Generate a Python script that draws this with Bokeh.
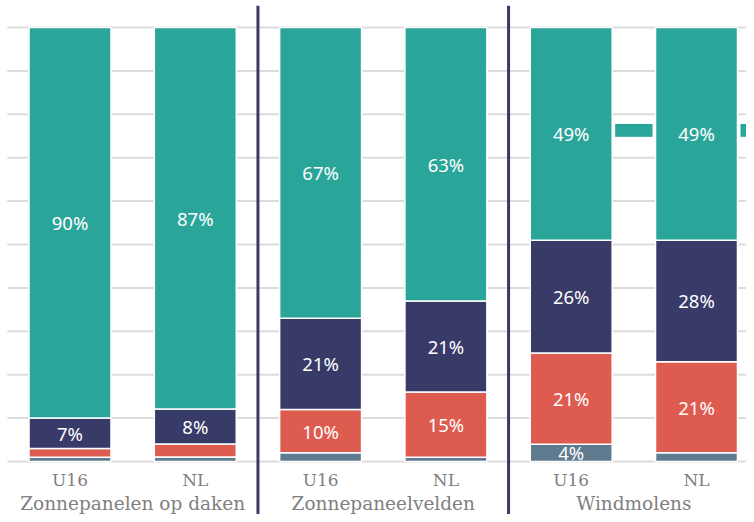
from bokeh.plotting import figure
from bokeh.core.properties import value
from bokeh.embed import file_html
from bokeh.resources import INLINE

# ---- data ----
groups = ["Zonnepanelen op daken", "Zonnepaneelvelden", "Windmolens"]
regions = ["U16", "NL"]
gray = [1, 1, 2, 1, 4, 2]
red = [2, 3, 10, 15, 21, 21]
navy = [7, 8, 21, 21, 26, 28]
teal = [90, 87, 67, 63, 49, 49]
grid_ticks = [0, 10, 20, 30, 40, 50, 60, 70, 80, 90, 100]
marker_level = [None, None, None, None, 76.3, 76.3]
marker_thick = 3.2

colors = ["#5f7b90", "#de5b50", "#383a68", "#2aa59a"]
series = [gray, red, navy, teal]

n = len(teal)
xs = list(range(n))
bar_w = 0.654
x_lo, x_hi = -0.5547, 5.399
y_lo, y_hi = -12.21, 106.22

p = figure(width=746, height=514, output_backend="svg", toolbar_location=None,
           x_range=(x_lo, x_hi), y_range=(y_lo, y_hi),
           x_axis_location=None, y_axis_location=None, min_border=0)
p.outline_line_color = None
p.xgrid.visible = False
p.ygrid.visible = False

# horizontal grid lines, starting half a slot left of the first bar
p.segment(x0=[-0.5] * len(grid_ticks), x1=[x_hi + 1] * len(grid_ticks),
          y0=grid_ticks, y1=grid_ticks, line_color="#dcdcdc", line_width=2)

# stacked (percent) bars
totals = [sum(s[i] for s in series) for i in range(n)]
bottoms = [0.0] * n
label_x, label_y, label_t = [], [], []
for s, c in zip(series, colors):
    pct = [100.0 * s[i] / totals[i] for i in range(n)]
    tops = [bottoms[i] + pct[i] for i in range(n)]
    p.vbar(x=xs, width=bar_w, bottom=bottoms, top=tops, fill_color=c,
           line_color="white", line_width=1.5)
    for i in range(n):
        if s[i] >= 4:
            label_x.append(xs[i])
            label_y.append((bottoms[i] + tops[i]) / 2)
            label_t.append(f"{s[i]}%")
    bottoms = tops

p.text(x=label_x, y=label_y, text=label_t, text_color="white",
       text_font=value("Noto Sans"), text_font_size="18.5px",
       text_align="center", text_baseline="middle")

# teal connector marks
mx0, mx1, my0, my1 = [], [], [], []
for i in range(n):
    if marker_level[i] is not None:
        mx0.append(xs[i] + bar_w / 2 + 0.02)
        mx1.append(xs[i] + 1 - bar_w / 2 - 0.02)
        my0.append(marker_level[i] - marker_thick / 2)
        my1.append(marker_level[i] + marker_thick / 2)
p.quad(left=mx0, right=mx1, bottom=my0, top=my1, fill_color=colors[3],
       line_color="white", line_width=1)

# group dividers
div_x = [2 * g - 0.5 for g in range(1, len(groups))]
p.segment(x0=div_x, x1=div_x, y0=[y_lo - 5] * len(div_x), y1=[105.0] * len(div_x),
          line_color="#383a68", line_width=3)

# category labels
p.text(x=xs, y=[-4.2] * n, text=[regions[i % 2] for i in range(n)],
       text_color="#808080", text_font=value("DejaVu Serif"), text_font_size="17px",
       text_align="center", text_baseline="middle")
p.text(x=[2 * g + 0.5 for g in range(len(groups))], y=[-9.6] * len(groups), text=groups,
       text_color="#808080", text_font=value("DejaVu Serif"), text_font_size="18.5px",
       text_align="center", text_baseline="middle")

open("out.html", "w").write(file_html(p, INLINE))
